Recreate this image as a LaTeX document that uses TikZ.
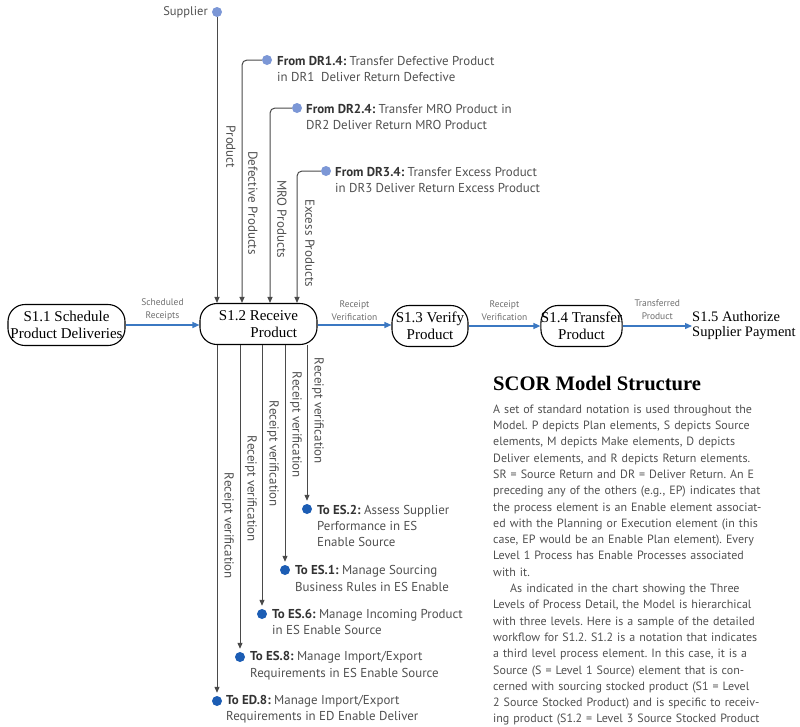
\documentclass[tikz,border=0pt]{standalone}
\usepackage{fontspec}
\setmainfont{Liberation Serif}
\newfontfamily\uifont{PT Sans}
\usetikzlibrary{arrows.meta,calc}

\definecolor{linegray}{HTML}{4A4A4A}
\definecolor{txtgray}{HTML}{505050}
\definecolor{boldgray}{HTML}{333333}
\definecolor{lblgray}{HTML}{6E6E6E}
\definecolor{flowblue}{HTML}{3B78C2}
\definecolor{dotlight}{HTML}{7C97D6}
\definecolor{dotdark}{HTML}{1C5DB4}

% one fully justified line of the side text
\newcommand\jline[1]{\makebox[293pt][s]{#1}\par}
\newcommand\lead[1]{{\bfseries\color{boldgray}#1}}
\frenchspacing

\begin{document}
\begin{tikzpicture}[x=1pt,y=-1pt,
  proc/.style={draw=black, line width=1.1pt, rounded corners=17pt,
    minimum height=41pt, inner sep=0pt, align=center,
    font=\fontsize{15}{17}\selectfont},
  flow/.style={draw=flowblue, line width=1.3pt,
    -{Triangle[length=7pt,width=6pt]}},
  garr/.style={draw=linegray, line width=1pt,
    -{Triangle[length=6pt,width=5pt]}},
  elbl/.style={font=\uifont\fontsize{9.5}{13}\selectfont, text=lblgray,
    align=center, inner sep=0pt},
  vlbl/.style={font=\uifont\fontsize{13}{14}\selectfont, text=txtgray,
    rotate=-90, inner sep=0pt},
  desc/.style={font=\uifont\fontsize{12.9}{16.4}\selectfont, text=txtgray,
    align=left, anchor=west, inner sep=0pt},
  srcdot/.style={circle, fill=dotlight, minimum size=10pt, inner sep=0pt},
  dstdot/.style={circle, fill=dotdark, minimum size=10pt, inner sep=0pt},
]
\useasboundingbox (0,0) rectangle (800,726);

% ---- process elements
\node[proc, minimum width=117pt] (s11) at (66.5,325) {S1.1 Schedule\\Product Deliveries};
\node[proc, minimum width=117pt, align=left] (s12) at (258.5,324) {S1.2 Receive\\\hspace*{2.1em}Product};
\node[proc, minimum width=76pt] (s13) at (430,326) {S1.3 Verify\\Product};
\node[proc, minimum width=77pt] (s14) at (581.5,326) {S1.4 Transfer\\Product};
\node[align=left, anchor=west, inner sep=0pt, font=\fontsize{14.5}{15}\selectfont]
  (s15) at (692,326) {S1.5 Authorize\\Supplier Payment};

% ---- main flow
\draw[flow] (s11.east |- 0,325) -- node[elbl, above=4pt]{Scheduled\\Receipts} (s12.west |- 0,325);
\draw[flow] (s12.east |- 0,325) -- node[elbl, above=4pt]{Receipt\\Verification} (s13.west |- 0,325);
\draw[flow] (s13.east |- 0,326) -- node[elbl, above=5pt]{Receipt\\Verification} (s14.west |- 0,326);
\draw[flow] (s14.east |- 0,326) -- node[elbl, above=6pt]{Transferred\\Product} (s15.west |- 0,326);

% ---- inputs
\node[srcdot] (sup) at (217,12) {};
\node[anchor=east, inner sep=0pt, font=\uifont\fontsize{12.5}{13}\selectfont, text=txtgray]
  (suplbl) at (208,12) {Supplier};
\node[srcdot] (dr1) at (267,60) {};
\node[srcdot] (dr2) at (297,108) {};
\node[srcdot] (dr3) at (326,171) {};
\node[desc] (dr1t) at (277,69)  {\lead{From DR1.4:} Transfer Defective Product\\in DR1\ \ Deliver Return Defective};
\node[desc] (dr2t) at (306,117) {\lead{From DR2.4:} Transfer MRO Product in\\DR2 Deliver Return MRO Product};
\node[desc] (dr3t) at (335,180) {\lead{From DR3.4:} Transfer Excess Product\\in DR3 Deliver Return Excess Product};

\coordinate (c1) at (242,0);
\coordinate (c2) at (270,0);
\coordinate (c3) at (297,0);
\draw[garr] (sup.south) -- (s12.north -| sup);
\draw[garr, rounded corners=5pt] (dr1.west) -| (s12.north -| c1);
\draw[garr, rounded corners=5pt] (dr2.west) -| (s12.north -| c2);
\draw[garr, rounded corners=5pt] (dr3.west) -| (s12.north -| c3);

\node[vlbl] (l0) at (231,147) {Product};
\node[vlbl] (l1) at (253,203) {Defective Products};
\node[vlbl] (l2) at (282,219) {MRO Products};
\node[vlbl] (l3) at (310,243) {Excess Products};

% ---- outputs
\node[dstdot] (es2) at (307,509) {};
\node[dstdot] (es1) at (285,570) {};
\node[dstdot] (es6) at (262,614) {};
\node[dstdot] (es8) at (240,657) {};
\node[dstdot] (ed8) at (217,701) {};
\node[desc] (es2t) at (317,526)   {\lead{To ES.2:} Assess Supplier\\Performance in ES\\Enable Source};
\node[desc] (es1t) at (295,578.5) {\lead{To ES.1:} Manage Sourcing\\Business Rules in ES Enable};
\node[desc] (es6t) at (272,622)   {\lead{To ES.6:} Manage Incoming Product\\in ES Enable Source};
\node[desc] (es8t) at (250,665.5) {\lead{To ES.8:} Manage Import/Export\\Requirements in ES Enable Source};
\node[desc] (ed8t) at (226,709)   {\lead{To ED.8:} Manage Import/Export\\Requirements in ED Enable Deliver};

\foreach \d in {es2,es1,es6,es8,ed8}
  \draw[garr, shorten >=3pt] (s12.south -| \d) -- (\d.north);

\node[vlbl] (r2) at (318,411) {Receipt verification};
\node[vlbl] (r1) at (296,425) {Receipt verification};
\node[vlbl] (r6) at (273,454) {Receipt verification};
\node[vlbl] (r8) at (251,489) {Receipt verification};
\node[vlbl] (rd) at (228,526) {Receipt verification};

% ---- side text
\node[anchor=base west, inner sep=0pt, font=\bfseries\fontsize{20.6}{22}\selectfont]
  (title) at (493,390) {SCOR Model Structure};
\node[anchor=north west, inner sep=0pt, text width=293pt, text=txtgray,
  font=\uifont\fontsize{12}{16.3}\selectfont] (body) at (493,404.5) {%
\jline{A set of standard notation is used throughout the}
\jline{Model. P depicts Plan elements, S depicts Source}
\jline{elements, M depicts Make elements, D depicts}
\jline{Deliver elements, and R depicts Return elements.}
\jline{SR = Source Return and DR = Deliver Return. An E}
\jline{preceding any of the others (e.g., EP) indicates that}
\jline{the process element is an Enable element associat-}
\jline{ed with the Planning or Execution element (in this}
\jline{case, EP would be an Enable Plan element). Every}
\jline{Level 1 Process has Enable Processes associated}
\noindent with it.\par
\jline{\hspace*{17pt}As indicated in the chart showing the Three}
\jline{Levels of Process Detail, the Model is hierarchical}
\jline{with three levels. Here is a sample of the detailed}
\jline{workflow for S1.2. S1.2 is a notation that indicates}
\jline{a third level process element. In this case, it is a}
\jline{Source (S = Level 1 Source) element that is con-}
\jline{cerned with sourcing stocked product (S1 = Level}
\jline{2 Source Stocked Product) and is specific to receiv-}
\jline{ing product (S1.2 = Level 3 Source Stocked Product}
};
\end{tikzpicture}
\end{document}
